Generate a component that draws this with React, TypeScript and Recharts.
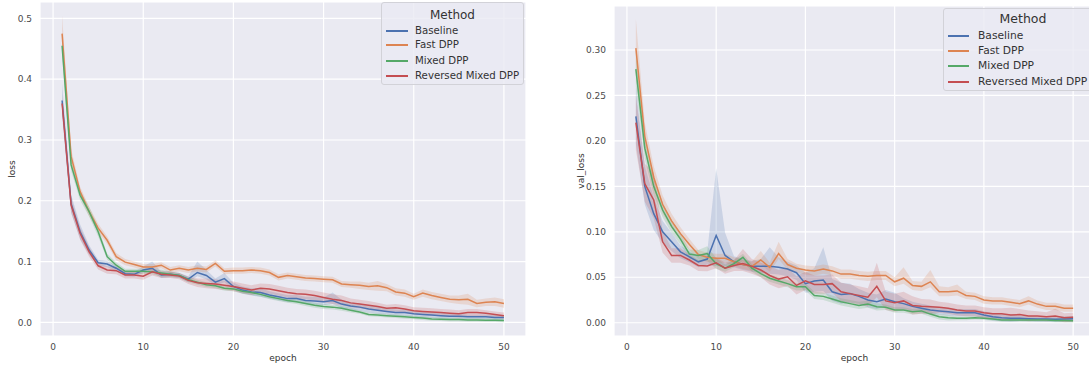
import { ComposedChart, Line, Area, XAxis, YAxis, CartesianGrid } from 'recharts'

const epochs = [
  1, 2, 3, 4, 5, 6, 7, 8, 9, 10, 11, 12, 13, 14, 15, 16, 17, 18, 19, 20, 21, 22, 23, 24, 25,
  26, 27, 28, 29, 30, 31, 32, 33, 34, 35, 36, 37, 38, 39, 40, 41, 42, 43, 44, 45, 46, 47, 48, 49, 50,
]
const methods = ['Baseline', 'Fast DPP', 'Mixed DPP', 'Reversed Mixed DPP']
const colors = ['#4c72b0', '#dd8452', '#55a868', '#c44e52']
const xTicks = [0, 10, 20, 30, 40, 50]
const lossTicks = [0, 0.1, 0.2, 0.3, 0.4, 0.5]
const valTicks = [0, 0.05, 0.1, 0.15, 0.2, 0.25, 0.3]

// training loss, mean per epoch
const lossBaseline = [
  0.365, 0.195, 0.149, 0.119, 0.098, 0.096, 0.089, 0.080, 0.079, 0.086, 0.089, 0.078, 0.079, 0.077, 0.071, 0.082, 0.077,
  0.066, 0.072, 0.059, 0.053, 0.050, 0.049, 0.045, 0.042, 0.039, 0.039, 0.036, 0.035, 0.034, 0.036, 0.030, 0.027, 0.025,
  0.022, 0.020, 0.018, 0.016, 0.016, 0.014, 0.013, 0.012, 0.011, 0.010, 0.010, 0.009, 0.009, 0.009, 0.008, 0.008,
]
const lossFast = [
  0.475, 0.273, 0.215, 0.182, 0.155, 0.135, 0.108, 0.099, 0.095, 0.091, 0.091, 0.094, 0.086, 0.089, 0.086, 0.089, 0.087,
  0.097, 0.084, 0.085, 0.085, 0.086, 0.085, 0.082, 0.074, 0.077, 0.075, 0.073, 0.072, 0.071, 0.070, 0.063, 0.062, 0.061,
  0.059, 0.060, 0.057, 0.050, 0.048, 0.042, 0.048, 0.044, 0.041, 0.038, 0.037, 0.038, 0.031, 0.033, 0.034, 0.031,
]
const lossMixed = [
  0.455, 0.259, 0.209, 0.182, 0.149, 0.108, 0.094, 0.084, 0.084, 0.084, 0.083, 0.081, 0.079, 0.077, 0.070, 0.066, 0.062,
  0.060, 0.056, 0.055, 0.051, 0.049, 0.046, 0.042, 0.039, 0.036, 0.034, 0.031, 0.028, 0.026, 0.025, 0.023, 0.020, 0.017,
  0.013, 0.012, 0.011, 0.010, 0.009, 0.008, 0.007, 0.0055, 0.005, 0.0045, 0.0045, 0.004, 0.004, 0.0035, 0.0035, 0.003,
]
const lossReversed = [
  0.360, 0.193, 0.146, 0.116, 0.093, 0.086, 0.085, 0.078, 0.078, 0.076, 0.083, 0.079, 0.078, 0.076, 0.069, 0.065, 0.064,
  0.063, 0.061, 0.059, 0.056, 0.053, 0.056, 0.055, 0.052, 0.049, 0.047, 0.046, 0.044, 0.041, 0.038, 0.036, 0.032, 0.030,
  0.028, 0.026, 0.023, 0.024, 0.022, 0.019, 0.018, 0.017, 0.016, 0.015, 0.014, 0.016, 0.016, 0.015, 0.013, 0.011,
]
// spread of the confidence band below / above the mean
const lossBaselineCi = [
  0.025, 0.015, 0.012, 0.008, 0.005, 0.005, 0.005, 0.004, 0.004, 0.005, 0.006, 0.005, 0.005, 0.004, 0.005, 0.006, 0.006,
  0.006, 0.006, 0.006, 0.006, 0.006, 0.007, 0.006, 0.006, 0.006, 0.006, 0.006, 0.006, 0.006, 0.006, 0.007, 0.006, 0.006,
  0.006, 0.006, 0.005, 0.005, 0.005, 0.005, 0.005, 0.005, 0.005, 0.004, 0.004, 0.004, 0.004, 0.004, 0.004, 0.004,
]
const lossBaselineCiUp = [
  0.028, 0.015, 0.012, 0.008, 0.005, 0.005, 0.005, 0.004, 0.004, 0.006, 0.011, 0.005, 0.005, 0.004, 0.005, 0.018, 0.009,
  0.006, 0.009, 0.006, 0.006, 0.006, 0.007, 0.006, 0.006, 0.006, 0.006, 0.006, 0.007, 0.007, 0.013, 0.007, 0.006, 0.006,
  0.006, 0.006, 0.005, 0.005, 0.005, 0.005, 0.005, 0.005, 0.005, 0.004, 0.004, 0.004, 0.004, 0.004, 0.004, 0.004,
]
const lossFastCi = [
  0.030, 0.012, 0.008, 0.008, 0.007, 0.006, 0.006, 0.005, 0.005, 0.005, 0.005, 0.005, 0.005, 0.005, 0.005, 0.005, 0.005,
  0.005, 0.005, 0.005, 0.005, 0.005, 0.005, 0.005, 0.005, 0.005, 0.005, 0.005, 0.005, 0.005, 0.005, 0.005, 0.005, 0.006,
  0.006, 0.008, 0.006, 0.006, 0.006, 0.005, 0.006, 0.006, 0.006, 0.006, 0.007, 0.009, 0.006, 0.006, 0.007, 0.007,
]
const lossMixedCi = [
  0.015, 0.010, 0.008, 0.008, 0.008, 0.005, 0.005, 0.004, 0.004, 0.004, 0.004, 0.006, 0.004, 0.004, 0.004, 0.004, 0.004,
  0.004, 0.004, 0.004, 0.004, 0.004, 0.004, 0.004, 0.004, 0.004, 0.004, 0.004, 0.004, 0.004, 0.004, 0.004, 0.004, 0.003,
  0.003, 0.003, 0.003, 0.003, 0.003, 0.003, 0.003, 0.003, 0.003, 0.003, 0.003, 0.003, 0.003, 0.003, 0.003, 0.003,
]
const lossReversedCi = [
  0.015, 0.012, 0.010, 0.008, 0.006, 0.006, 0.006, 0.006, 0.006, 0.006, 0.006, 0.006, 0.005, 0.005, 0.006, 0.007, 0.008,
  0.008, 0.008, 0.008, 0.008, 0.008, 0.008, 0.008, 0.008, 0.008, 0.008, 0.008, 0.008, 0.008, 0.008, 0.008, 0.007, 0.007,
  0.007, 0.006, 0.006, 0.006, 0.006, 0.006, 0.006, 0.006, 0.006, 0.006, 0.006, 0.006, 0.006, 0.005, 0.005, 0.005,
]

// validation loss, mean per epoch
const valBaseline = [
  0.227, 0.150, 0.120, 0.100, 0.089, 0.078, 0.0725, 0.067, 0.070, 0.096, 0.074, 0.067, 0.064, 0.062, 0.062, 0.062, 0.061,
  0.059, 0.055, 0.043, 0.046, 0.047, 0.034, 0.031, 0.032, 0.029, 0.025, 0.023, 0.026, 0.023, 0.021, 0.018, 0.016, 0.014,
  0.013, 0.012, 0.011, 0.011, 0.011, 0.0085, 0.0065, 0.0055, 0.005, 0.0048, 0.0045, 0.004, 0.004, 0.0037, 0.004, 0.0044,
]
const valFast = [
  0.302, 0.205, 0.160, 0.130, 0.112, 0.098, 0.086, 0.075, 0.072, 0.071, 0.071, 0.067, 0.064, 0.062, 0.069, 0.061, 0.076,
  0.064, 0.060, 0.058, 0.057, 0.059, 0.057, 0.0535, 0.0535, 0.052, 0.051, 0.052, 0.052, 0.045, 0.049, 0.041, 0.040, 0.045,
  0.034, 0.034, 0.035, 0.030, 0.029, 0.025, 0.024, 0.024, 0.0225, 0.021, 0.024, 0.0205, 0.018, 0.018, 0.016, 0.016,
]
const valMixed = [
  0.279, 0.192, 0.150, 0.124, 0.106, 0.092, 0.0755, 0.074, 0.076, 0.065, 0.060, 0.065, 0.072, 0.060, 0.054, 0.049, 0.046,
  0.043, 0.0395, 0.0395, 0.030, 0.029, 0.026, 0.023, 0.021, 0.019, 0.0205, 0.0175, 0.017, 0.014, 0.014, 0.012, 0.013, 0.0095,
  0.0066, 0.0055, 0.0048, 0.0048, 0.0055, 0.005, 0.004, 0.003, 0.003, 0.003, 0.003, 0.003, 0.003, 0.0025, 0.0025, 0.0022,
]
const valReversed = [
  0.220, 0.153, 0.135, 0.089, 0.074, 0.074, 0.069, 0.063, 0.0625, 0.066, 0.060, 0.063, 0.065, 0.062, 0.058, 0.052, 0.048,
  0.0505, 0.041, 0.046, 0.042, 0.042, 0.043, 0.034, 0.032, 0.030, 0.028, 0.040, 0.024, 0.022, 0.024, 0.019, 0.018, 0.0176,
  0.017, 0.016, 0.014, 0.013, 0.013, 0.011, 0.010, 0.010, 0.0085, 0.009, 0.0075, 0.0075, 0.0065, 0.0075, 0.0055, 0.006,
]
const valBaselineCi = [
  0.030, 0.020, 0.018, 0.012, 0.010, 0.007, 0.006, 0.006, 0.006, 0.034, 0.012, 0.006, 0.006, 0.006, 0.007, 0.008, 0.008,
  0.008, 0.008, 0.010, 0.012, 0.012, 0.010, 0.010, 0.010, 0.008, 0.008, 0.008, 0.008, 0.008, 0.006, 0.005, 0.005, 0.005,
  0.004, 0.004, 0.004, 0.004, 0.004, 0.004, 0.004, 0.004, 0.004, 0.003, 0.003, 0.003, 0.003, 0.003, 0.003, 0.003,
]
const valBaselineCiUp = [
  0.032, 0.022, 0.018, 0.012, 0.010, 0.007, 0.006, 0.006, 0.008, 0.074, 0.025, 0.006, 0.006, 0.006, 0.008, 0.021, 0.011,
  0.008, 0.008, 0.012, 0.014, 0.036, 0.014, 0.013, 0.011, 0.008, 0.008, 0.008, 0.010, 0.010, 0.006, 0.005, 0.005, 0.005,
  0.004, 0.004, 0.004, 0.004, 0.004, 0.004, 0.004, 0.004, 0.004, 0.003, 0.003, 0.003, 0.003, 0.003, 0.003, 0.003,
]
const valFastCi = [
  0.030, 0.015, 0.012, 0.010, 0.008, 0.007, 0.006, 0.005, 0.005, 0.005, 0.005, 0.005, 0.005, 0.005, 0.005, 0.005, 0.006,
  0.006, 0.005, 0.005, 0.005, 0.005, 0.005, 0.005, 0.005, 0.005, 0.005, 0.005, 0.005, 0.005, 0.006, 0.005, 0.005, 0.006,
  0.005, 0.005, 0.005, 0.004, 0.004, 0.004, 0.004, 0.004, 0.004, 0.004, 0.004, 0.004, 0.004, 0.004, 0.004, 0.004,
]
const valFastCiUp = [
  0.032, 0.015, 0.012, 0.010, 0.008, 0.007, 0.006, 0.005, 0.005, 0.005, 0.005, 0.005, 0.005, 0.005, 0.010, 0.005, 0.013,
  0.006, 0.005, 0.005, 0.005, 0.005, 0.005, 0.005, 0.005, 0.005, 0.005, 0.005, 0.005, 0.005, 0.012, 0.005, 0.005, 0.013,
  0.006, 0.005, 0.007, 0.004, 0.004, 0.004, 0.004, 0.004, 0.004, 0.004, 0.005, 0.004, 0.004, 0.004, 0.004, 0.004,
]
const valMixedCi = [
  0.020, 0.012, 0.010, 0.008, 0.007, 0.006, 0.005, 0.006, 0.008, 0.006, 0.004, 0.004, 0.004, 0.004, 0.004, 0.004, 0.004,
  0.004, 0.004, 0.004, 0.004, 0.004, 0.004, 0.004, 0.004, 0.004, 0.004, 0.004, 0.003, 0.003, 0.003, 0.003, 0.003, 0.003,
  0.003, 0.003, 0.002, 0.002, 0.002, 0.002, 0.002, 0.002, 0.002, 0.002, 0.002, 0.002, 0.002, 0.002, 0.002, 0.002,
]
const valReversedCi = [
  0.030, 0.020, 0.020, 0.012, 0.008, 0.008, 0.006, 0.006, 0.006, 0.006, 0.006, 0.006, 0.008, 0.008, 0.008, 0.010, 0.010,
  0.010, 0.010, 0.010, 0.010, 0.010, 0.010, 0.010, 0.010, 0.010, 0.010, 0.012, 0.010, 0.010, 0.010, 0.010, 0.008, 0.008,
  0.006, 0.006, 0.006, 0.006, 0.006, 0.006, 0.006, 0.006, 0.006, 0.006, 0.006, 0.005, 0.005, 0.005, 0.005, 0.005,
]
const valReversedCiUp = [
  0.030, 0.022, 0.030, 0.012, 0.008, 0.008, 0.006, 0.006, 0.006, 0.006, 0.006, 0.006, 0.016, 0.008, 0.008, 0.010, 0.010,
  0.010, 0.010, 0.010, 0.010, 0.010, 0.010, 0.010, 0.010, 0.010, 0.010, 0.026, 0.010, 0.010, 0.010, 0.010, 0.008, 0.008,
  0.006, 0.006, 0.006, 0.006, 0.006, 0.006, 0.006, 0.006, 0.008, 0.006, 0.006, 0.005, 0.005, 0.008, 0.005, 0.005,
]

const font = '"DejaVu Sans", sans-serif'

function buildRows(means: number[][], ciDown: number[][], ciUp: number[][]) {
  return epochs.map((epoch, i) => {
    const row: Record<string, any> = { epoch }
    means.forEach((m, k) => {
      row[`m${k}`] = m[i]
      row[`b${k}`] = [Math.max(0, m[i] - ciDown[k][i]), m[i] + ciUp[k][i]]
    })
    return row
  })
}

const lossRows = buildRows(
  [lossBaseline, lossFast, lossMixed, lossReversed],
  [lossBaselineCi, lossFastCi, lossMixedCi, lossReversedCi],
  [lossBaselineCiUp, lossFastCi, lossMixedCi, lossReversedCi],
)
const valRows = buildRows(
  [valBaseline, valFast, valMixed, valReversed],
  [valBaselineCi, valFastCi, valMixedCi, valReversedCi],
  [valBaselineCiUp, valFastCiUp, valMixedCi, valReversedCiUp],
)

interface PanelProps {
  rows: any[]
  yLabel: string
  yDomain: [number, number]
  yTicks: number[]
  digits: number
  width: number
  top: number
  right: number
  yWidth: number
  labelOffset: number
}

function Panel({ rows, yLabel, yDomain, yTicks, digits, width, top, right, yWidth, labelOffset }: PanelProps) {
  const tick = { fontSize: 9, fill: '#4a4a4a', fontFamily: font }
  return (
    <ComposedChart width={width} height={366} data={rows} margin={{ top, right, bottom: 0, left: 0 }}>
      <CartesianGrid stroke="#ffffff" strokeWidth={1.2} fill="#eaeaf2" fillOpacity={1} />
      <XAxis
        dataKey="epoch"
        type="number"
        domain={[-1.45, 52.45]}
        ticks={xTicks}
        allowDataOverflow
        axisLine={false}
        tickLine={false}
        tickSize={0}
        tickMargin={8}
        height={366 - 336}
        tick={tick}
        label={{ value: 'epoch', position: 'insideBottom', offset: 5, fontSize: 9, fill: '#333', fontFamily: font }}
      />
      <YAxis
        type="number"
        domain={yDomain}
        ticks={yTicks}
        allowDataOverflow
        axisLine={false}
        tickLine={false}
        tickSize={0}
        tickMargin={8}
        width={yWidth}
        tick={tick}
        tickFormatter={(v: number) => v.toFixed(digits)}
        label={{
          value: yLabel,
          angle: -90,
          position: 'insideLeft',
          offset: labelOffset,
          fontSize: 9,
          fill: '#333',
          fontFamily: font,
          style: { textAnchor: 'middle' },
        }}
      />
      {methods.map((m, k) => (
        <Area
          key={`band-${m}`}
          type="linear"
          dataKey={`b${k}`}
          stroke="none"
          fill={colors[k]}
          fillOpacity={0.2}
          isAnimationActive={false}
          dot={false}
          activeDot={false}
        />
      ))}
      {methods.map((m, k) => (
        <Line
          key={`line-${m}`}
          type="linear"
          dataKey={`m${k}`}
          name={m}
          stroke={colors[k]}
          strokeWidth={1.5}
          dot={false}
          activeDot={false}
          isAnimationActive={false}
        />
      ))}
    </ComposedChart>
  )
}

interface LegendBoxProps {
  left: number
  top: number
  width: number
  titleSize: number
  itemSize: number
  titleY: number
  rowYs: number[]
  lineX: [number, number]
  textX: number
}

function LegendBox({ left, top, width, titleSize, itemSize, titleY, rowYs, lineX, textX }: LegendBoxProps) {
  return (
    <div
      style={{
        position: 'absolute',
        left,
        top,
        width,
        height: 83,
        background: 'rgba(234,234,242,0.8)',
        border: '1px solid #d2d2d8',
        borderRadius: 3,
        fontFamily: font,
        color: '#333',
        boxSizing: 'border-box',
      }}
    >
      <div style={{ position: 'absolute', left: 0, width: '100%', top: titleY - 8, lineHeight: '16px', fontSize: titleSize, textAlign: 'center' }}>
        Method
      </div>
      {methods.map((m, k) => (
        <div key={m}>
          <div
            style={{
              position: 'absolute',
              left: lineX[0],
              width: lineX[1] - lineX[0],
              top: rowYs[k] - 0.75,
              height: 1.5,
              background: colors[k],
            }}
          />
          <div style={{ position: 'absolute', left: textX, top: rowYs[k] - 7, lineHeight: '14px', fontSize: itemSize, whiteSpace: 'nowrap' }}>
            {m}
          </div>
        </div>
      ))}
    </div>
  )
}

export default function App() {
  return (
    <div style={{ position: 'absolute', left: 0, top: 0, width: 1089, height: 366, overflow: 'hidden', background: '#fff' }}>
      <div style={{ position: 'absolute', left: 0, top: 0 }}>
        <Panel
          rows={lossRows}
          yLabel="loss"
          yDomain={[-0.0225, 0.527]}
          yTicks={lossTicks}
          digits={1}
          width={540}
          top={2}
          right={14}
          yWidth={40}
          labelOffset={12}
        />
      </div>
      <div style={{ position: 'absolute', left: 560, top: 0 }}>
        <Panel
          rows={valRows}
          yLabel="val_loss"
          yDomain={[-0.0146, 0.3484]}
          yTicks={valTicks}
          digits={2}
          width={545}
          top={6}
          right={10}
          yWidth={54}
          labelOffset={21}
        />
      </div>
      <LegendBox
        left={381}
        top={2}
        width={143}
        titleSize={12}
        itemSize={10.2}
        titleY={12}
        rowYs={[28, 42, 58, 73]}
        lineX={[4, 26]}
        textX={33}
      />
      <LegendBox
        left={943}
        top={8}
        width={160}
        titleSize={12.5}
        itemSize={10.7}
        titleY={10}
        rowYs={[27, 42, 57, 73]}
        lineX={[4, 25]}
        textX={34}
      />
    </div>
  )
}
